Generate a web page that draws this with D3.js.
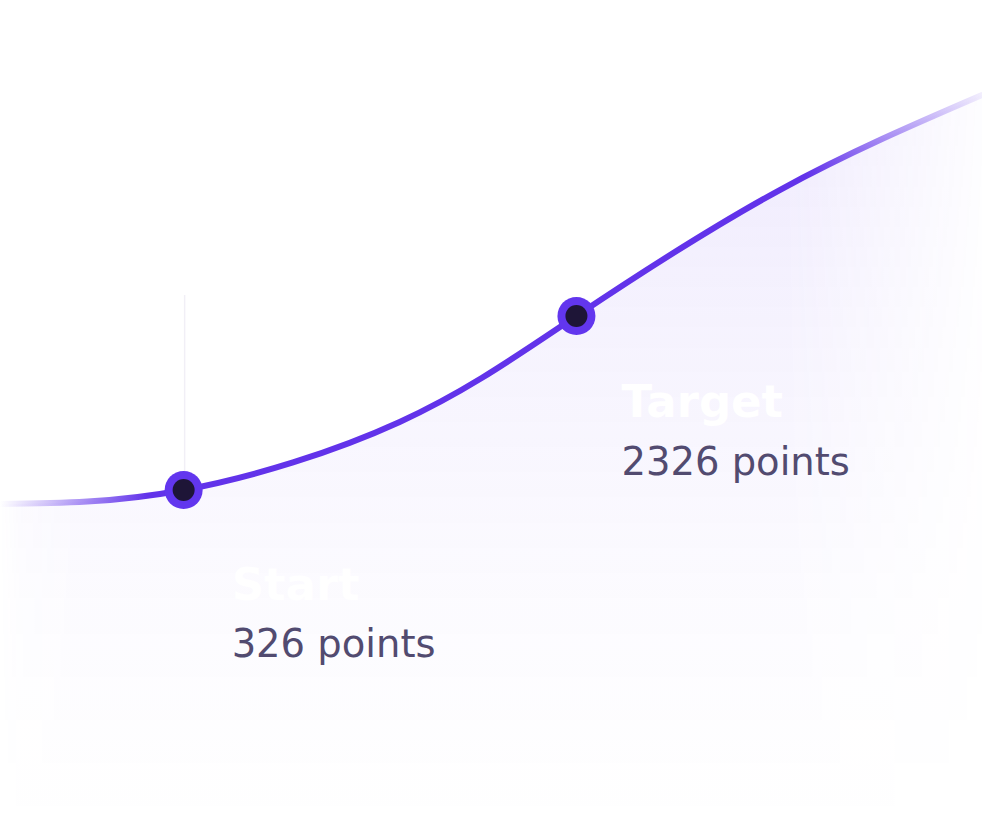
<!DOCTYPE html>
<html>
<head>
<meta charset="utf-8">
<script src="https://cdn.jsdelivr.net/npm/d3@7/dist/d3.min.js"></script>
<style>
  html, body { margin: 0; padding: 0; background: #ffffff; }
  svg { display: block; }
</style>
</head>
<body>
<script>
// progress (% of the way) and points along the curve
const progress = [0, 18.7, 40.7, 58.7, 79.4, 100];
const pointsVals = [165, 326, 1108, 2326, 3774, 4866];
// marked milestones
const milestoneNames = ["Start", "Target"];
const milestoneProgress = [18.7, 58.7];
const milestoneValues = [326, 2326];
const milestoneLabels = ["326 points", "2326 points"];

const W = 982, H = 828;
const svg = d3.select("body").append("svg").attr("width", W).attr("height", H);

const x = d3.scaleLinear().domain([0, 100]).range([0, 982]);
const y = d3.scaleLinear().domain([326, 2326]).range([490, 316]);

const data = progress.map((p, i) => ({ p, v: pointsVals[i] }));

const defs = svg.append("defs");

// line gradient (fades at both ends)
const lg = defs.append("linearGradient").attr("id", "lineGrad")
  .attr("gradientUnits", "userSpaceOnUse")
  .attr("x1", 0).attr("y1", 0).attr("x2", W).attr("y2", 0);
[[0, 0.0], [0.05, 0.3], [0.15, 1], [0.82, 1], [0.9, 0.55], [1, 0.08]].forEach(([o, a]) =>
  lg.append("stop").attr("offset", o).attr("stop-color", "#6233ea").attr("stop-opacity", a));

// area vertical gradient
const ag = defs.append("linearGradient").attr("id", "areaGrad")
  .attr("gradientUnits", "userSpaceOnUse")
  .attr("x1", 0).attr("y1", 95).attr("x2", 0).attr("y2", H);
[[0, 0.11], [0.35, 0.06], [0.7, 0.02], [1, 0.0]].forEach(([o, a]) =>
  ag.append("stop").attr("offset", o).attr("stop-color", "#6a3ff0").attr("stop-opacity", a));

// horizontal mask for area edges
const mg = defs.append("linearGradient").attr("id", "maskGrad")
  .attr("gradientUnits", "userSpaceOnUse")
  .attr("x1", 0).attr("y1", 0).attr("x2", W).attr("y2", 0);
[[0, 0], [0.02, 0.6], [0.08, 1], [0.8, 1], [0.9, 0.55], [1, 0.1]].forEach(([o, a]) =>
  mg.append("stop").attr("offset", o).attr("stop-color", "#fff").attr("stop-opacity", a));
defs.append("mask").attr("id", "areaMask")
  .append("rect").attr("x", 0).attr("y", 0).attr("width", W).attr("height", H)
  .attr("fill", "url(#maskGrad)");

const curve = d3.curveNatural;

// area
svg.append("path")
  .datum(data)
  .attr("d", d3.area().x(d => x(d.p)).y0(H).y1(d => y(d.v)).curve(curve))
  .attr("fill", "url(#areaGrad)")
  .attr("mask", "url(#areaMask)");

// faint guide line at start
svg.append("line")
  .attr("x1", x(milestoneProgress[0]) + 1).attr("x2", x(milestoneProgress[0]) + 1)
  .attr("y1", 295).attr("y2", y(milestoneValues[0]))
  .attr("stroke", "#f1eff6").attr("stroke-width", 1.5);

// line
svg.append("path")
  .datum(data)
  .attr("d", d3.line().x(d => x(d.p)).y(d => y(d.v)).curve(curve))
  .attr("fill", "none")
  .attr("stroke", "url(#lineGrad)")
  .attr("stroke-width", 6)
  .attr("stroke-linecap", "round");

// milestones
const ms = milestoneNames.map((n, i) => ({ n, p: milestoneProgress[i], v: milestoneValues[i], l: milestoneLabels[i] }));
const g = svg.selectAll("g.ms").data(ms).enter().append("g").attr("class", "ms");
g.append("circle").attr("cx", d => x(d.p)).attr("cy", d => y(d.v)).attr("r", 19).attr("fill", "#6236ee");
g.append("circle").attr("cx", d => x(d.p)).attr("cy", d => y(d.v)).attr("r", 11).attr("fill", "#1e1537");

g.append("text")
  .attr("x", (d, i) => x(d.p) + (i === 0 ? 48 : 45))
  .attr("y", (d, i) => y(d.v) + (i === 0 ? 110 : 101))
  .attr("font-family", "'DejaVu Sans', sans-serif")
  .attr("font-weight", "bold")
  .attr("font-size", 45)
  .attr("fill", "#ffffff")
  .text(d => d.n);

g.append("text")
  .attr("x", (d, i) => x(d.p) + (i === 0 ? 48 : 45))
  .attr("y", (d, i) => y(d.v) + (i === 0 ? 167 : 159))
  .attr("font-family", "'DejaVu Sans', sans-serif")
  .attr("font-size", 38.5)
  .attr("fill", "#524b70")
  .text(d => d.l);
</script>
</body>
</html>
